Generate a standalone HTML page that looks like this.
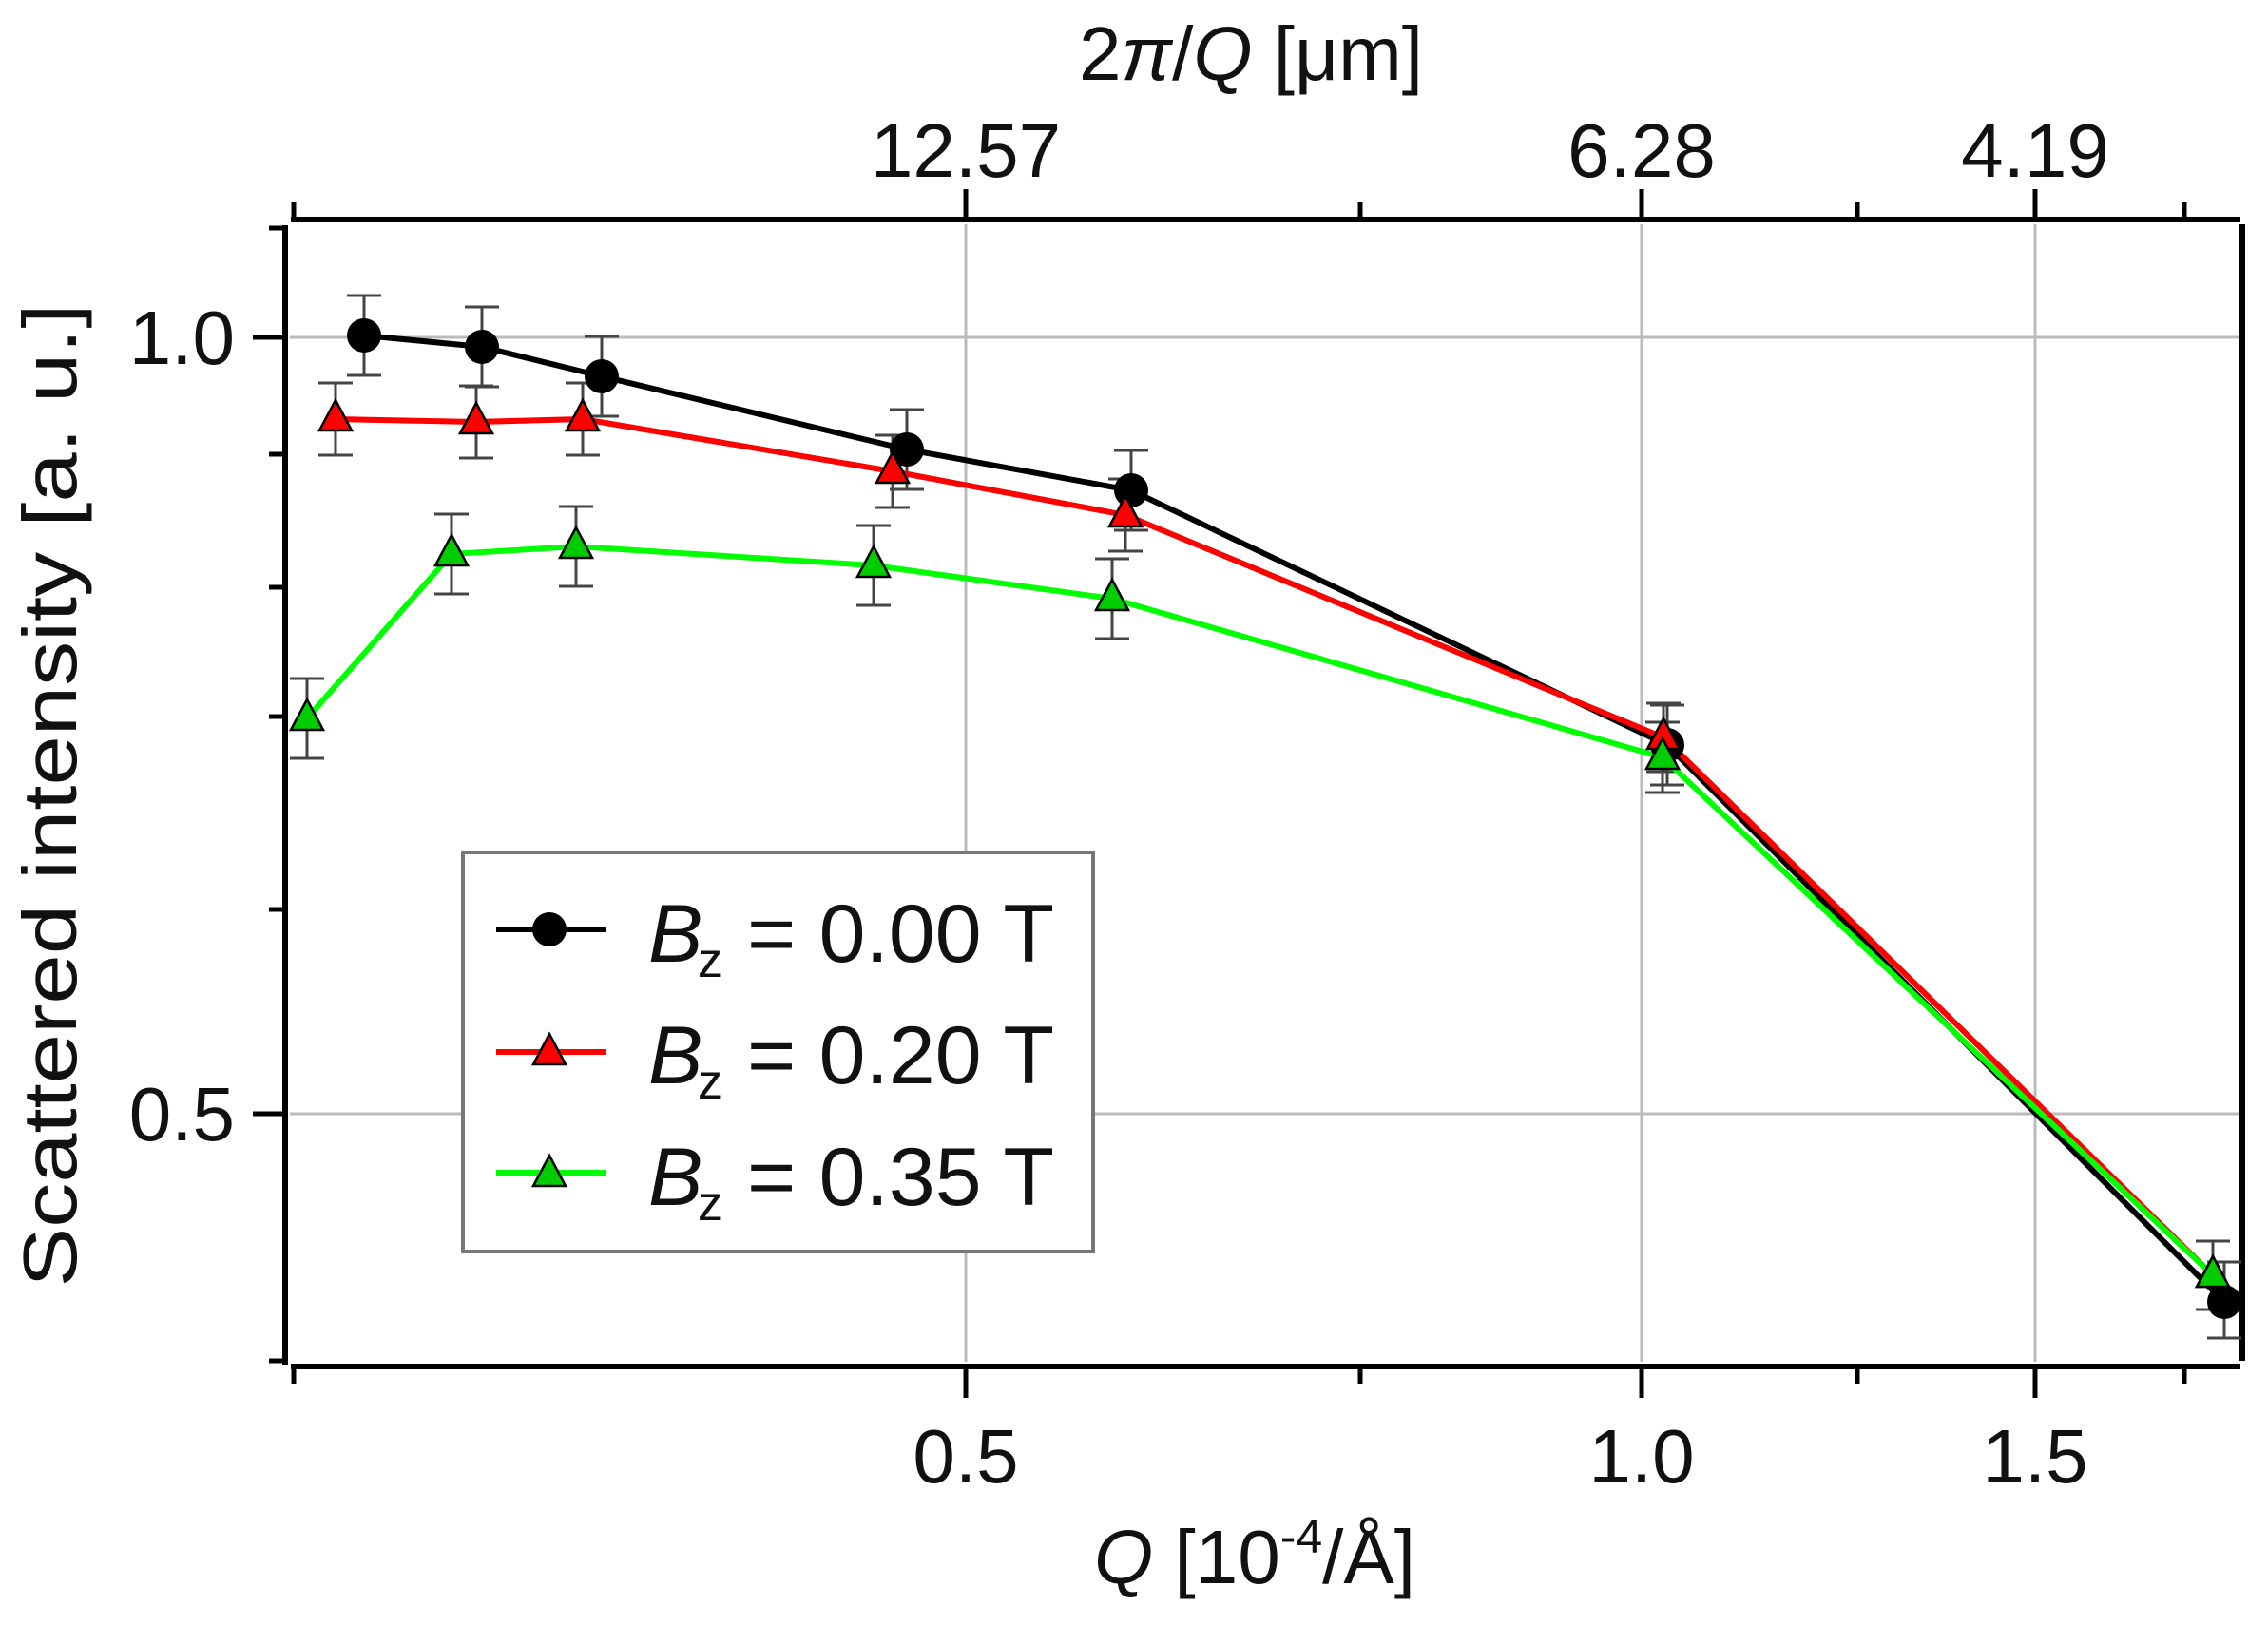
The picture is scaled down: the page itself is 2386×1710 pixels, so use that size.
<!DOCTYPE html>
<html><head><meta charset="utf-8"><style>html,body{margin:0;padding:0;background:#fff}svg{display:block}</style></head>
<body>
<svg width="2386" height="1710" viewBox="0 0 2386 1710" xmlns="http://www.w3.org/2000/svg" font-family="Liberation Sans, sans-serif">
<rect width="2386" height="1710" fill="#fff"/>
<!-- grid -->
<g stroke="#bbb" stroke-width="3">
<line x1="1016" y1="236" x2="1016" y2="1433"/>
<line x1="1727" y1="236" x2="1727" y2="1433"/>
<line x1="2141" y1="236" x2="2141" y2="1433"/>
<line x1="305" y1="355" x2="2356" y2="355"/>
<line x1="305" y1="1172" x2="2356" y2="1172"/>
</g>
<!-- axes -->
<g stroke="#000" stroke-width="6" fill="none">
<line x1="300" y1="237" x2="300" y2="1436"/>
<line x1="306" y1="1438" x2="2357" y2="1438"/>
<line x1="306" y1="231" x2="2357" y2="231"/>
<line x1="2359" y1="236" x2="2359" y2="1432"/>
</g>
<g stroke="#000" stroke-width="5">
<!-- y ticks -->
<line x1="266" y1="355" x2="300" y2="355"/>
<line x1="266" y1="1172" x2="300" y2="1172"/>
<line x1="283" y1="240" x2="300" y2="240"/>
<line x1="283" y1="478" x2="300" y2="478"/>
<line x1="283" y1="618" x2="300" y2="618"/>
<line x1="283" y1="754" x2="300" y2="754"/>
<line x1="283" y1="957" x2="300" y2="957"/>
<line x1="283" y1="1432" x2="300" y2="1432"/>
<!-- bottom ticks -->
<line x1="309" y1="1438" x2="309" y2="1456"/>
<line x1="1016" y1="1438" x2="1016" y2="1471"/>
<line x1="1431" y1="1438" x2="1431" y2="1456"/>
<line x1="1727" y1="1438" x2="1727" y2="1471"/>
<line x1="1954" y1="1438" x2="1954" y2="1456"/>
<line x1="2141" y1="1438" x2="2141" y2="1471"/>
<line x1="2298" y1="1438" x2="2298" y2="1456"/>
<!-- top ticks -->
<line x1="309" y1="231" x2="309" y2="213"/>
<line x1="1016" y1="231" x2="1016" y2="199"/>
<line x1="1431" y1="231" x2="1431" y2="213"/>
<line x1="1727" y1="231" x2="1727" y2="199"/>
<line x1="1954" y1="231" x2="1954" y2="213"/>
<line x1="2141" y1="231" x2="2141" y2="199"/>
<line x1="2298" y1="231" x2="2298" y2="213"/>
</g>
<!-- tick labels -->
<g font-size="80" fill="#111">
<text x="247" y="383" text-anchor="end">1.0</text>
<text x="247" y="1200" text-anchor="end">0.5</text>
<text x="1016" y="1560" text-anchor="middle">0.5</text>
<text x="1727" y="1560" text-anchor="middle">1.0</text>
<text x="2141" y="1560" text-anchor="middle">1.5</text>
<text x="1016" y="186" text-anchor="middle">12.57</text>
<text x="1727" y="186" text-anchor="middle">6.28</text>
<text x="2141" y="186" text-anchor="middle">4.19</text>
</g>
<text x="1320" y="1666" font-size="80" text-anchor="middle" fill="#111"><tspan font-style="italic">Q</tspan> [10<tspan font-size="50" dy="-32">-4</tspan><tspan dy="32">/Å]</tspan></text>
<text x="1316" y="84" font-size="80" text-anchor="middle" fill="#111">2<tspan font-style="italic">π</tspan>/<tspan font-style="italic">Q</tspan> [μm]</text>
<text transform="translate(80,837) rotate(-90)" font-size="80" text-anchor="middle" fill="#111" textLength="1035" lengthAdjust="spacingAndGlyphs">Scattered intensity [a. u.]</text>

<!-- error bars -->
<g stroke="#444" stroke-width="3">
<path d="M383 311V395M365 311H401M365 395H401 M507 323V407M489 323H525M489 407H525 M633 354V438M615 354H651M615 438H651 M954 431V515M936 431H972M936 515H972 M1190 474V558M1172 474H1208M1172 558H1208 M1754 742V826M1736 742H1772M1736 826H1772 M2340 1328V1408M2322 1328H2358M2322 1408H2358"/>
<path d="M353 403V479M335 403H371M335 479H371 M501 406V482M483 406H519M483 482H519 M613 403V479M595 403H631M595 479H631 M939 458V534M921 458H957M921 534H957 M1184 504V580M1166 504H1202M1166 580H1202 M1750 740V812M1732 740H1768M1732 812H1768"/>
<path d="M323 714V798M305 714H341M305 798H341 M475 541V625M457 541H493M457 625H493 M606 533V617M588 533H624M588 617H624 M919 553V637M901 553H937M901 637H937 M1170 588V672M1152 588H1188M1152 672H1188 M1749 760V834M1731 760H1767M1731 834H1767 M2328 1306V1378M2310 1306H2346M2310 1378H2346"/>
</g>
<!-- lines -->
<polyline fill="none" stroke="#000" stroke-width="6" points="383,353 507,365 633,396 954,473 1190,516 1754,784 2340,1370"/>
<polyline fill="none" stroke="#f00" stroke-width="6" points="353,441 501,444 613,441 939,496 1184,542 1750,776 2328,1342"/>
<polyline fill="none" stroke="#0f0" stroke-width="6" points="323,756 475,583 606,575 919,595 1170,630 1749,797 2328,1342"/>
<!-- markers -->
<g fill="#000">
<circle cx="383" cy="353" r="18"/><circle cx="507" cy="365" r="18"/><circle cx="633" cy="396" r="18"/><circle cx="954" cy="473" r="18"/><circle cx="1190" cy="516" r="18"/><circle cx="1754" cy="784" r="18"/><circle cx="2340" cy="1370" r="18"/>
</g>
<g fill="#f00" stroke="#000" stroke-width="2.5">
<path d="M353 421l17 32h-34z"/><path d="M501 424l17 32h-34z"/><path d="M613 421l17 32h-34z"/><path d="M939 476l17 32h-34z"/><path d="M1184 522l17 32h-34z"/><path d="M1750 756l17 32h-34z"/><path d="M2328 1322l17 32h-34z"/>
</g>
<g fill="#0c0" stroke="#000" stroke-width="2.5">
<path d="M323 736l17 32h-34z"/><path d="M475 563l17 32h-34z"/><path d="M606 555l17 32h-34z"/><path d="M919 575l17 32h-34z"/><path d="M1170 610l17 32h-34z"/><path d="M1749 777l17 32h-34z"/><path d="M2328 1322l17 32h-34z"/>
</g>
<!-- legend -->
<rect x="487" y="897" width="663" height="420" fill="#fff" stroke="#777" stroke-width="4"/>
<line x1="522" y1="978" x2="638" y2="978" stroke="#000" stroke-width="6"/>
<circle cx="578" cy="978" r="18" fill="#000"/>
<line x1="522" y1="1107" x2="638" y2="1107" stroke="#f00" stroke-width="6"/>
<path d="M578 1088l17 32h-34z" fill="#f00" stroke="#000" stroke-width="2.5"/>
<line x1="522" y1="1234" x2="638" y2="1234" stroke="#0f0" stroke-width="6"/>
<path d="M578 1216l17 32h-34z" fill="#0c0" stroke="#000" stroke-width="2.5"/>
<g font-size="86" fill="#111">
<text x="682" y="1012" font-style="italic">B</text><text x="734" y="1028" font-size="52">z</text><text x="786" y="1012" textLength="323" lengthAdjust="spacingAndGlyphs">= 0.00 T</text>
<text x="682" y="1140" font-style="italic">B</text><text x="734" y="1156" font-size="52">z</text><text x="786" y="1140" textLength="323" lengthAdjust="spacingAndGlyphs">= 0.20 T</text>
<text x="682" y="1268" font-style="italic">B</text><text x="734" y="1284" font-size="52">z</text><text x="786" y="1268" textLength="323" lengthAdjust="spacingAndGlyphs">= 0.35 T</text>
</g>
</svg>
</body></html>
